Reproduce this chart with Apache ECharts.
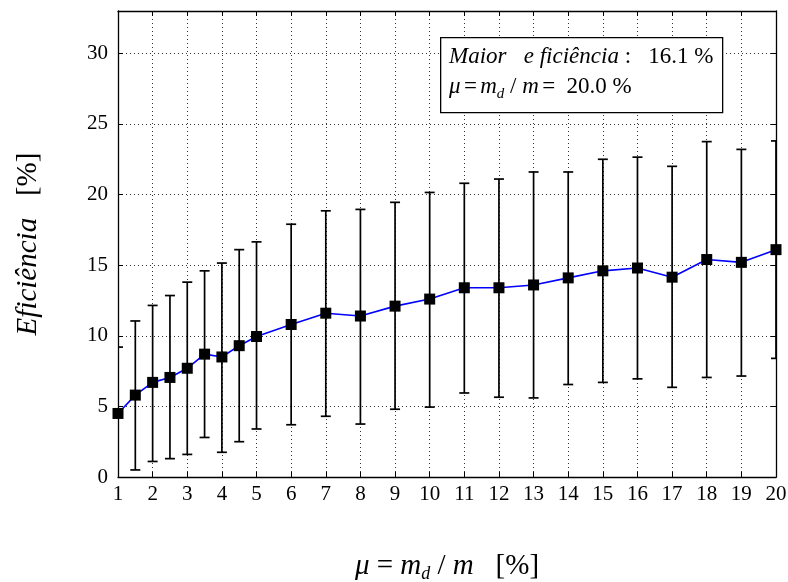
<!DOCTYPE html>
<html><head><meta charset="utf-8">
<script src="https://cdn.jsdelivr.net/npm/echarts@6/dist/echarts.min.js"></script>
<style>html,body{margin:0;padding:0;background:#fff}#c{width:788px;height:582px}</style>
</head><body><div id="c"></div>
<script>
var xs    = [1, 1.5, 2, 2.5, 3, 3.5, 4, 4.5, 5, 6, 7, 8, 9, 10, 11, 12, 13, 14, 15, 16, 17, 18, 19, 20];
var means = [4.5, 5.8, 6.7, 7.05, 7.7, 8.7, 8.5, 9.3, 9.95, 10.8, 11.6, 11.4, 12.1, 12.6, 13.4, 13.4, 13.6, 14.1, 14.6, 14.8, 14.15, 15.4, 15.2, 16.1];
var lows  = [-0.2, 0.5, 1.1, 1.3, 1.6, 2.8, 1.75, 2.5, 3.4, 3.7, 4.3, 3.75, 4.8, 4.95, 5.95, 5.65, 5.6, 6.55, 6.7, 6.95, 6.35, 7.05, 7.15, 8.4];
var highs = [9.2, 11.05, 12.15, 12.85, 13.8, 14.6, 15.15, 16.1, 16.65, 17.9, 18.85, 18.95, 19.45, 20.15, 20.8, 21.1, 21.6, 21.6, 22.5, 22.65, 22.0, 23.75, 23.2, 23.8];
var yTicks = [0, 5, 10, 15, 20, 25, 30];

var FONT = 'Liberation Serif';
var chart = echarts.init(document.getElementById('c'), null, {renderer: 'canvas'});
var lineData = xs.map(function (x, i) { return [x, means[i]]; });
var errData = xs.map(function (x, i) { return [x, lows[i], highs[i]]; });

var gridLine = {show: true, lineStyle: {color: '#333', type: [1, 3], width: 1}};
var frame = {show: true, onZero: false, lineStyle: {color: '#000', width: 1.3}};
var tick = {show: true, inside: true, length: 5, lineStyle: {color: '#000', width: 1}};

chart.setOption({
  animation: false,
  backgroundColor: '#fff',
  grid: {left: 118, right: 12, top: 11, bottom: 105, containLabel: false, outerBoundsMode: 'none'},
  xAxis: [{
    type: 'value', min: 1, max: 20, interval: 1, position: 'bottom',
    axisLine: frame, axisTick: tick, splitLine: gridLine,
    axisLabel: {color: '#000', fontFamily: FONT, fontSize: 21, margin: 7},
    name: '{i|μ} = {i|m}{s|d} / {i|m}   [%]', nameLocation: 'middle', nameGap: 72,
    nameTextStyle: {color: '#000', fontFamily: FONT, fontSize: 29,
      rich: {i: {fontStyle: 'italic', fontFamily: FONT, fontSize: 29, color: '#000', lineHeight: 34},
             s: {fontStyle: 'italic', fontFamily: FONT, fontSize: 18, color: '#000', verticalAlign: 'bottom', lineHeight: 18}}}
  }, {
    type: 'value', min: 1, max: 20, interval: 1, position: 'top',
    axisLine: frame, axisTick: tick, splitLine: {show: false}, axisLabel: {show: false}
  }],
  yAxis: [{
    type: 'value', min: 0, max: 33, interval: 5, position: 'left',
    axisLine: frame, axisTick: tick, splitLine: gridLine,
    axisLabel: {color: '#000', fontFamily: FONT, fontSize: 21, margin: 10, showMaxLabel: false,
      formatter: function (v) { return yTicks.indexOf(v) >= 0 ? String(v) : ''; }},
    name: '{i|Eficiência}   [%]', nameLocation: 'middle', nameGap: 75, nameRotate: 90,
    nameTextStyle: {color: '#000', fontFamily: FONT, fontSize: 29,
      rich: {i: {fontStyle: 'italic', fontFamily: FONT, fontSize: 29, color: '#000'}}}
  }, {
    type: 'value', min: 0, max: 33, interval: 5, position: 'right',
    axisLine: frame, axisTick: tick, splitLine: {show: false}, axisLabel: {show: false}
  }],
  series: [{
    type: 'custom',
    clip: true,
    data: errData,
    z: 3,
    renderItem: function (params, api) {
      var x = api.value(0);
      var lo = api.coord([x, api.value(1)]);
      var hi = api.coord([x, api.value(2)]);
      var cw = 5;
      var st = {stroke: '#000', lineWidth: 1.7};
      return {type: 'group', children: [
        {type: 'line', shape: {x1: lo[0], y1: lo[1], x2: hi[0], y2: hi[1]}, style: st},
        {type: 'line', shape: {x1: lo[0] - cw, y1: lo[1], x2: lo[0] + cw, y2: lo[1]}, style: st},
        {type: 'line', shape: {x1: hi[0] - cw, y1: hi[1], x2: hi[0] + cw, y2: hi[1]}, style: st}
      ]};
    }
  }, {
    type: 'line',
    data: lineData,
    z: 4,
    clip: true,
    symbol: 'rect', symbolSize: 11,
    itemStyle: {color: '#000'},
    lineStyle: {color: '#0000ff', width: 1.6}
  }],
  graphic: [{
    type: 'rect', left: 440, top: 37, z: 10,
    shape: {width: 282, height: 75},
    style: {fill: '#fff', stroke: '#000', lineWidth: 1.3}
  }, {
    type: 'text', left: 449, top: 45, z: 11,
    style: {
      text: '{i|Maior   e ficiência}{r| :   16.1 %}\n{i|μ} {r|=} {i|m}{s|d}{r| / }{i|m} {r|=  20.0 %}',
      rich: {
        i: {fontFamily: FONT, fontStyle: 'italic', fontSize: 23, fill: '#000', lineHeight: 30},
        r: {fontFamily: FONT, fontSize: 23, fill: '#000', lineHeight: 30},
        s: {fontFamily: FONT, fontStyle: 'italic', fontSize: 15, fill: '#000', verticalAlign: 'bottom', lineHeight: 15}
      }
    }
  }]
});
</script></body></html>
